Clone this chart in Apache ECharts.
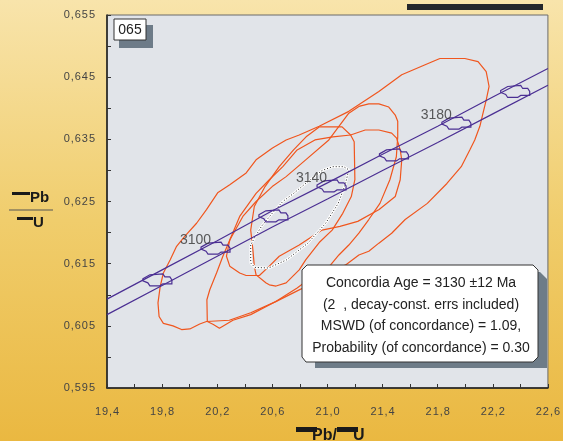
<!DOCTYPE html>
<html>
<head>
<meta charset="utf-8">
<script src="https://cdn.jsdelivr.net/npm/echarts@6/dist/echarts.min.js"></script>
<style>
  html, body { margin: 0; padding: 0; }
  #chart { width: 563px; height: 441px; }
</style>
</head>
<body>
<div id="chart"></div>
<script>
// error ellipses of the analyses (207Pb/235U, 206Pb/238U)
var ellipseA = [
  [21.816, 0.6480], [21.997, 0.6480], [22.093, 0.6475], [22.152, 0.6459], [22.173, 0.6435],
  [22.152, 0.6413], [22.129, 0.6392], [22.106, 0.6371], [22.069, 0.6349], [22.033, 0.6333],
  [21.971, 0.6306], [21.867, 0.6279], [21.725, 0.6247], [21.564, 0.6221], [21.466, 0.6199],
  [21.373, 0.6183], [21.300, 0.6170], [21.228, 0.6164], [21.132, 0.6148], [20.961, 0.6129],
  [20.806, 0.6109], [20.625, 0.6089], [20.443, 0.6071], [20.288, 0.6059], [20.122, 0.6057],
  [20.073, 0.6053], [20.001, 0.6045], [19.941, 0.6044], [19.879, 0.6050], [19.809, 0.6054],
  [19.778, 0.6065], [19.770, 0.6087], [19.786, 0.6113], [19.809, 0.6135], [19.858, 0.6156],
  [19.905, 0.6178], [19.964, 0.6194], [20.050, 0.6215], [20.122, 0.6237], [20.203, 0.6264],
  [20.291, 0.6277], [20.410, 0.6296], [20.482, 0.6317], [20.601, 0.6336], [20.700, 0.6349],
  [20.795, 0.6357], [20.940, 0.6371], [21.155, 0.6395], [21.373, 0.6427], [21.539, 0.6454],
  [21.709, 0.6470], [21.816, 0.6480]
]
var ellipseB = [
  [21.228, 0.6403], [21.300, 0.6407], [21.373, 0.6407], [21.445, 0.6402], [21.492, 0.6389],
  [21.510, 0.6379], [21.510, 0.6354], [21.500, 0.6322], [21.453, 0.6285], [21.381, 0.6247],
  [21.300, 0.6221], [21.228, 0.6199], [21.155, 0.6180], [21.083, 0.6164], [21.023, 0.6148],
  [20.909, 0.6132], [20.780, 0.6111], [20.625, 0.6089], [20.443, 0.6068], [20.314, 0.6059],
  [20.216, 0.6046], [20.172, 0.6052], [20.128, 0.6057], [20.125, 0.6092], [20.146, 0.6108],
  [20.195, 0.6135], [20.241, 0.6162], [20.291, 0.6188], [20.386, 0.6226], [20.482, 0.6250],
  [20.599, 0.6274], [20.700, 0.6290], [20.842, 0.6317], [21.010, 0.6349], [21.155, 0.6392],
  [21.228, 0.6403]
]
var ellipseC = [
  [20.940, 0.6370], [21.106, 0.6370], [21.168, 0.6357], [21.194, 0.6346], [21.199, 0.6285],
  [21.173, 0.6258], [21.111, 0.6231], [21.034, 0.6204], [20.940, 0.6184], [20.842, 0.6156],
  [20.795, 0.6140], [20.700, 0.6119], [20.627, 0.6114], [20.578, 0.6116], [20.555, 0.6119],
  [20.482, 0.6132], [20.469, 0.6146], [20.459, 0.6172], [20.443, 0.6204], [20.469, 0.6242],
  [20.547, 0.6274], [20.650, 0.6306], [20.754, 0.6333], [20.845, 0.6354], [20.940, 0.6370]
]
var ellipseD = [
  [21.168, 0.6357], [21.274, 0.6365], [21.373, 0.6365], [21.466, 0.6360], [21.502, 0.6352],
  [21.528, 0.6333], [21.539, 0.6317], [21.528, 0.6285], [21.492, 0.6258], [21.375, 0.6237],
  [21.220, 0.6218], [21.091, 0.6210], [20.961, 0.6204], [20.795, 0.6180], [20.650, 0.6162],
  [20.578, 0.6146], [20.506, 0.6131], [20.410, 0.6131], [20.363, 0.6135], [20.291, 0.6146],
  [20.267, 0.6162], [20.291, 0.6188], [20.363, 0.6226], [20.482, 0.6263], [20.578, 0.6285],
  [20.676, 0.6306], [20.780, 0.6333], [20.909, 0.6349], [21.039, 0.6354], [21.168, 0.6357]
]
// concordia age ellipse
var concordiaEllipse = [
  [20.443, 0.6180], [20.443, 0.6151], [20.474, 0.6144], [20.573, 0.6143], [20.702, 0.6156],
  [20.858, 0.6183], [20.987, 0.6215], [21.078, 0.6247], [21.129, 0.6277], [21.155, 0.6301],
  [21.117, 0.6306], [21.039, 0.6306], [20.961, 0.6300], [20.858, 0.6282], [20.754, 0.6263],
  [20.676, 0.6250], [20.599, 0.6231], [20.521, 0.6210], [20.469, 0.6191], [20.443, 0.6180]
]
// concordia band (decay-constant errors)
var concordiaUpper = [
  [19.4, 0.6093], [19.8, 0.6140], [20.2, 0.6187], [20.6, 0.6235], [21.0, 0.6280],
  [21.4, 0.6326], [21.8, 0.6371], [22.2, 0.6418], [22.6, 0.6464]
]
var concordiaLower = [
  [19.4, 0.6068], [19.8, 0.6115], [20.2, 0.6162], [20.6, 0.6209], [21.0, 0.6254],
  [21.4, 0.6300], [21.8, 0.6345], [22.2, 0.6391], [22.6, 0.6437]
]
// age marks on concordia: [x, y, age]
var ageMarks = [
  [19.762, 0.6124, 3080], [20.184, 0.6175, 3100], [20.604, 0.6227, 3120],
  [21.026, 0.6275, 3140], [21.479, 0.6325, 3160], [21.932, 0.6376, 3180],
  [22.359, 0.6427, 3200]
]
var labelledAges = [3100, 3140, 3180]
var resultLines = [
  'Concordia Age = 3130 \u00b112 Ma',
  '(2  , decay-const. errs included)',
  'MSWD (of concordance) = 1.09,',
  'Probability (of concordance) = 0.30'
]

var orange = '#f0561e'
var purple = '#4b2f93'
var font = '"Liberation Sans", Arial, sans-serif'

var chart = echarts.init(document.getElementById('chart'))

function ellipseSeries(data) {
  return {
    type: 'line',
    data: data,
    showSymbol: false,
    silent: true,
    lineStyle: { color: orange, width: 1.2 },
    z: 2
  }
}

// spread tick label characters like the original
function spaced(s) {
  return s.split('').join('\u200a')
}

// marker outline, offsets in px around the age point
var markShape = [[-14, -1], [-7, -5], [6, -6], [8, -3], [13, -3], [15, 0], [15, 4],
  [6, 4], [3, 6], [-7, 6], [-9, 3], [-14, 1]]

chart.setOption({
  backgroundColor: {
    type: 'linear', x: 0, y: 0, x2: 0, y2: 1,
    colorStops: [
      { offset: 0, color: '#f8e4ab' },
      { offset: 0.5, color: '#f0cd6c' },
      { offset: 1, color: '#eab841' }
    ]
  },
  animation: false,
  grid: {
    left: 107, right: 13, top: 15, bottom: 53,
    show: true,
    backgroundColor: '#e1e4e9',
    borderColor: '#6b6b6b',
    borderWidth: 1
  },
  xAxis: {
    type: 'value',
    min: 19.4,
    max: 22.6,
    interval: 0.2,
    axisLine: { lineStyle: { color: '#1a1a1a', width: 1.5 } },
    axisTick: { inside: true, length: 4, lineStyle: { color: '#333' } },
    splitLine: { show: false },
    axisLabel: {
      margin: 18,
      color: '#444',
      fontSize: 11,
      fontFamily: font,
      formatter: function(v) {
        var k = Math.round((v - 19.4) / 0.2)
        return k % 2 === 0 ? spaced(v.toFixed(1).replace('.', ',')) : ''
      }
    }
  },
  yAxis: {
    type: 'value',
    min: 0.595,
    max: 0.655,
    interval: 0.005,
    axisLine: { show: true, lineStyle: { color: '#1a1a1a', width: 1.5 } },
    axisTick: { show: true, inside: true, length: 4, lineStyle: { color: '#333' } },
    splitLine: { show: false },
    axisLabel: {
      margin: 12,
      color: '#444',
      fontSize: 11,
      fontFamily: font,
      formatter: function(v) {
        var k = Math.round((v - 0.595) / 0.005)
        return k % 2 === 0 ? spaced(v.toFixed(3).replace('.', ',')) : ''
      }
    }
  },
  series: [
    ellipseSeries(ellipseA),
    ellipseSeries(ellipseB),
    ellipseSeries(ellipseC),
    ellipseSeries(ellipseD),
    {
      type: 'line',
      data: concordiaEllipse,
      showSymbol: false,
      silent: true,
      lineStyle: { color: '#ffffff', width: 2.5 },
      z: 3
    },
    {
      type: 'line',
      data: concordiaEllipse,
      showSymbol: false,
      silent: true,
      lineStyle: { color: '#222', width: 1, type: [1, 2] },
      z: 4
    },
    {
      type: 'line',
      data: concordiaUpper,
      showSymbol: false,
      silent: true,
      lineStyle: { color: purple, width: 1.2 },
      z: 5
    },
    {
      type: 'line',
      data: concordiaLower,
      showSymbol: false,
      silent: true,
      lineStyle: { color: purple, width: 1.2 },
      z: 5
    },
    {
      type: 'custom',
      data: ageMarks,
      silent: true,
      z: 6,
      renderItem: function(params, api) {
        var c = api.coord([api.value(0), api.value(1)])
        return {
          type: 'polygon',
          shape: { points: markShape.map(function(o) { return [c[0] + o[0], c[1] + o[1]] }) },
          style: { fill: 'rgba(0,0,0,0)', stroke: purple, lineWidth: 1.2 }
        }
      }
    },
    {
      type: 'scatter',
      data: ageMarks.filter(function(d) { return labelledAges.indexOf(d[2]) >= 0 }),
      symbolSize: 0,
      silent: true,
      z: 7,
      label: {
        show: true,
        position: 'left',
        distance: 4,
        offset: [0, -8],
        color: '#333',
        fontSize: 14,
        fontFamily: font,
        formatter: function(p) { return p.value[2] }
      }
    }
  ],
  graphic: [
    // black bar top right
    { type: 'rect', shape: { x: 407, y: 4, width: 136, height: 6 }, style: { fill: '#23262b' }, z: 100 },
    // sample label box
    { type: 'rect', shape: { x: 119, y: 25, width: 34, height: 23 }, style: { fill: '#6d7b88' }, z: 100 },
    { type: 'rect', shape: { x: 114, y: 19, width: 32, height: 21 }, style: { fill: '#fff', stroke: '#333', lineWidth: 1 }, z: 101 },
    { type: 'text', x: 130, y: 30, style: { text: '065', font: '14px ' + font, fill: '#222', align: 'center', verticalAlign: 'middle' }, z: 102 },
    // result box shadow and box
    {
      type: 'polygon', z: 100,
      shape: { points: [[315, 272], [540, 272], [547, 279], [547, 368], [315, 368]] },
      style: { fill: '#6e7c88' }
    },
    {
      type: 'polygon', z: 101,
      shape: { points: [[307, 265], [533, 265], [538, 270], [538, 357], [533, 362], [306, 362], [302, 357], [302, 270]] },
      style: { fill: '#fff', stroke: '#333', lineWidth: 1 }
    },
    { type: 'text', x: 421, y: 283, style: { text: resultLines[0], font: '14px ' + font, fill: '#222', align: 'center', verticalAlign: 'middle' }, z: 102 },
    { type: 'text', x: 421, y: 305, style: { text: resultLines[1], font: '14px ' + font, fill: '#222', align: 'center', verticalAlign: 'middle' }, z: 102 },
    { type: 'text', x: 421, y: 326, style: { text: resultLines[2], font: '14px ' + font, fill: '#222', align: 'center', verticalAlign: 'middle' }, z: 102 },
    { type: 'text', x: 421, y: 348, style: { text: resultLines[3], font: '14px ' + font, fill: '#222', align: 'center', verticalAlign: 'middle' }, z: 102 },
    // y axis title
    { type: 'rect', shape: { x: 12, y: 192, width: 18, height: 3 }, style: { fill: '#1a1a1a' }, z: 100 },
    { type: 'text', x: 30, y: 198, style: { text: 'Pb', font: 'bold 15px ' + font, fill: '#1a1a1a', verticalAlign: 'middle' }, z: 100 },
    { type: 'line', shape: { x1: 9, y1: 210, x2: 53, y2: 210 }, style: { stroke: '#555', lineWidth: 1 }, z: 100 },
    { type: 'rect', shape: { x: 17, y: 217, width: 16, height: 3 }, style: { fill: '#1a1a1a' }, z: 100 },
    { type: 'text', x: 33, y: 223, style: { text: 'U', font: 'bold 15px ' + font, fill: '#1a1a1a', verticalAlign: 'middle' }, z: 100 },
    // x axis title
    { type: 'rect', shape: { x: 296, y: 427, width: 21, height: 5 }, style: { fill: '#1a1a1a' }, z: 100 },
    { type: 'text', x: 312, y: 428, style: { text: 'Pb/', font: 'bold 16px ' + font, fill: '#1a1a1a', verticalAlign: 'top' }, z: 100 },
    { type: 'rect', shape: { x: 337, y: 427, width: 21, height: 5 }, style: { fill: '#1a1a1a' }, z: 100 },
    { type: 'text', x: 353, y: 428, style: { text: 'U', font: 'bold 16px ' + font, fill: '#1a1a1a', verticalAlign: 'top' }, z: 100 }
  ]
})
</script>
</body>
</html>
